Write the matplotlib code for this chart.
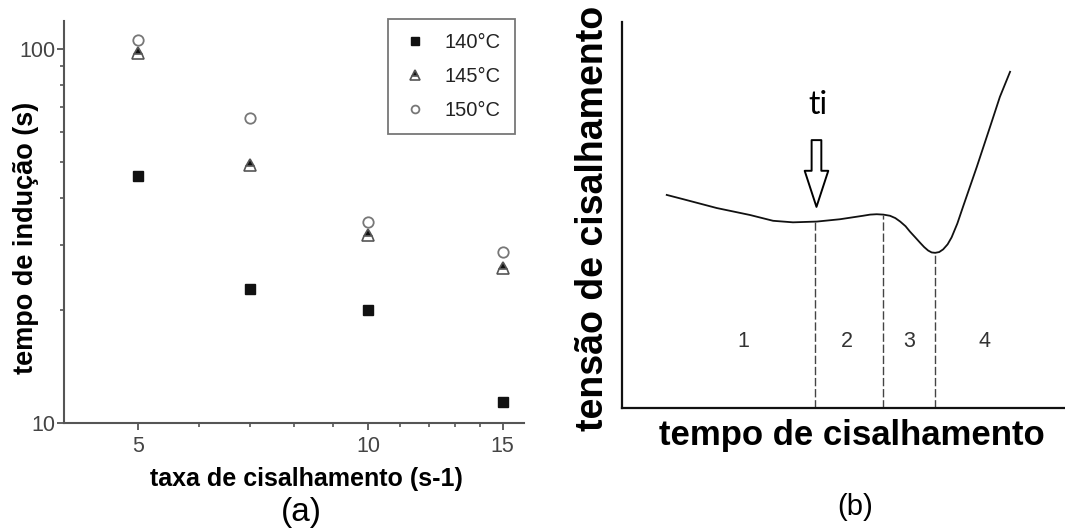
import numpy as np
import matplotlib
matplotlib.use("Agg")
import matplotlib.pyplot as plt

plt.rcParams['font.family'] = ['Liberation Sans', 'DejaVu Sans']

# (a) tempo de indução x taxa de cisalhamento
taxa = [5, 7, 10, 15]
t_140 = [45.7, 22.8, 20.0, 11.4]
t_145 = [98.0, 49.0, 31.8, 26.0]
t_150 = [105.7, 65.5, 34.4, 28.6]
rotulos = ['140°C', '145°C', '150°C']

# (b) curva esquemática tensão x tempo (unidades arbitrárias, 0-100)
tempo_b = [10.1, 13.8, 21.4, 28.9, 34.1, 38.6, 44.0, 49.2, 54.4, 56.0, 57.5, 59.0,
           60.5, 61.7, 62.8, 64.0, 65.0, 66.2, 67.3, 68.2, 69.1, 69.9, 70.7, 71.6,
           72.5, 73.5, 74.4, 75.7, 77.0, 80.1, 83.1, 85.3, 87.6]
tensao_b = [55.2, 54.1, 51.8, 50.0, 48.5, 48.1, 48.3, 48.9, 49.8, 50.1, 50.2, 50.1,
            49.8, 49.2, 48.3, 47.1, 45.7, 44.2, 42.8, 41.7, 40.8, 40.3, 40.2, 40.4,
            41.1, 42.4, 44.2, 47.8, 52.2, 62.5, 72.9, 80.6, 87.1]
limites = [43.6, 58.9, 70.7]
regioes = ['1', '2', '3', '4']
pos_regioes = [27.3, 50.8, 64.8, 81.9]
t_ind = 43.6

W, H = 1065, 528
fig = plt.figure(figsize=(W / 100, H / 100), dpi=100)

cinza = '#555555'

# ---------- painel (a) ----------
ax = fig.add_axes([64 / W, (H - 423) / H, 460 / W, 402 / H])
ax.set_xscale('log')
ax.set_yscale('log')
ax.plot(taxa, t_140, 's', ms=7.5, color='#111111', mec='#111111', ls='none', label=rotulos[0])
ax.plot(taxa, t_145, '^', ms=9, fillstyle='top', color='#111111', markerfacecoloralt='white',
        mec='#555555', mew=1.2, ls='none', label=rotulos[1])
ax.plot(taxa, t_150, 'o', ms=7.5, mfc='white', mec='#777777', mew=1.3, ls='none', label=rotulos[2])
ax.set_xlim(4, 16)
ax.set_ylim(10, 119)

ax.set_xticks([5, 10, 15])
ax.set_xticklabels(['5', '10', '15'])
ax.set_xticks([6, 7, 8, 9, 11, 12, 13, 14], minor=True)
ax.xaxis.set_minor_formatter(matplotlib.ticker.NullFormatter())
ax.set_yticks([10, 100])
ax.set_yticklabels(['10', '100'])
ax.set_yticks([20, 30, 40, 50, 60, 70, 80, 90], minor=True)
ax.yaxis.set_minor_formatter(matplotlib.ticker.NullFormatter())

for s in ['top', 'right']:
    ax.spines[s].set_visible(False)
for s in ['left', 'bottom']:
    ax.spines[s].set_color(cinza)
    ax.spines[s].set_linewidth(1.5)
ax.tick_params(which='major', length=5, width=1.3, color=cinza, labelsize=15.5, labelcolor='#444444')
ax.tick_params(which='minor', length=3, width=1.2, color=cinza)
ax.tick_params(axis='y', pad=1)
ax.tick_params(axis='x', pad=4)

ax.set_xlabel('taxa de cisalhamento (s-1)', fontsize=18, fontweight='bold', va='center')
ax.xaxis.set_label_coords(0.528, -0.139)
ax.set_ylabel('tempo de indução (s)', fontsize=19.5, fontweight='bold', va='center')
ax.yaxis.set_label_coords(-0.0826, 0.46)

leg = ax.legend(loc='upper right', bbox_to_anchor=(515 / W, 1 - 19 / H), bbox_transform=fig.transFigure,
                borderaxespad=0, fancybox=False, fontsize=14.5, markerscale=0.75,
                handlelength=1.2, handletextpad=0.9, labelspacing=0.75, borderpad=0.7)
leg.get_frame().set_edgecolor(cinza)
leg.get_frame().set_linewidth(1.3)
for t in leg.get_texts():
    t.set_color('#222222')

fig.text(301 / W, 1 - 512 / H, '(a)', fontsize=24, ha='center', va='center')

# ---------- painel (b) ----------
bx = fig.add_axes([622 / W, (H - 408) / H, 443 / W, 386 / H])
bx.plot(tempo_b, tensao_b, color='#111111', lw=1.3)
bx.set_xlim(0, 100)
bx.set_ylim(0, 100)
bx.set_xticks([])
bx.set_yticks([])
for s in ['top', 'right']:
    bx.spines[s].set_visible(False)
for s in ['left', 'bottom']:
    bx.spines[s].set_linewidth(1.6)
    bx.spines[s].set_color('#111111')

topo = np.interp(limites, tempo_b, tensao_b)
bx.vlines(limites, 0, topo, colors='#444444', linestyles=(0, (6, 2)), lw=1.0)

for x, r in zip(pos_regioes, regioes):
    bx.text(x, 17.1, r, fontsize=15.5, color='#333333', ha='center', va='center')

bx.text(t_ind + 0.6, 78.5, 'ti', fontsize=23, family='Lato', ha='center', va='center')
bx.annotate('', xy=(t_ind + 0.3, 52.1), xytext=(t_ind + 0.3, 69.4),
            arrowprops=dict(arrowstyle='simple,head_length=1.3,head_width=0.85,tail_width=0.35',
                            mutation_scale=20, fc='white', ec='black', lw=1.4,
                            shrinkA=0, shrinkB=0))

bx.set_xlabel('tempo de cisalhamento', fontsize=25, fontweight='bold', va='center')
bx.xaxis.set_label_coords(0.519, -0.07)
bx.set_ylabel('tensão de cisalhamento', fontsize=27, fontweight='bold', va='center')
bx.yaxis.set_label_coords(-0.0655, 0.49)

fig.text(855 / W, 1 - 507 / H, '(b)', fontsize=21, ha='center', va='center')

fig.savefig('out.png', dpi=100)
